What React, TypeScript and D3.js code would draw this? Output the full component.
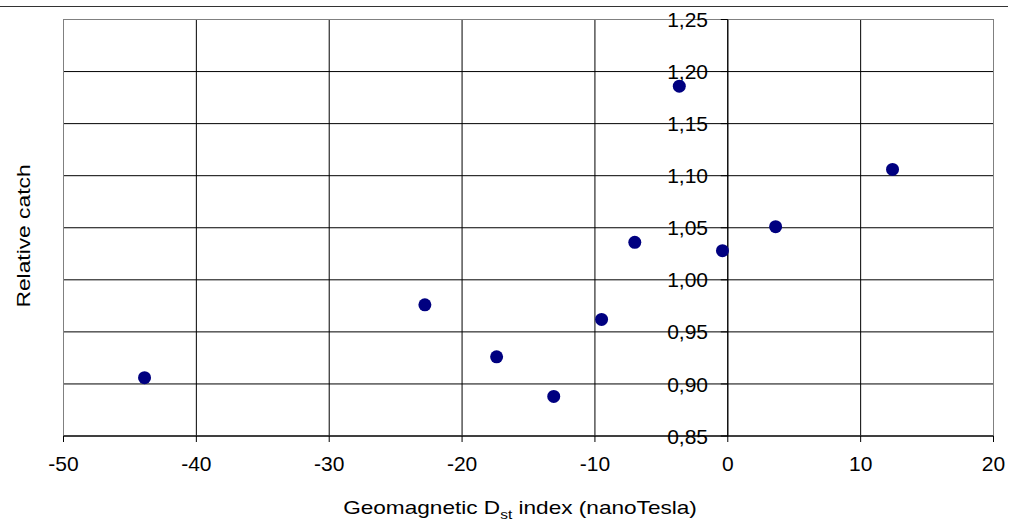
import React from 'react';
import * as d3 from 'd3';

// Dst index (nT) and relative catch
const dstValues = [-43.9, -22.8, -17.4, -13.1, -9.5, -7.0, -3.65, -0.4, 3.6, 12.4];
const catchValues = [0.906, 0.976, 0.926, 0.888, 0.962, 1.036, 1.186, 1.028, 1.051, 1.106];

const xTicks = [-50, -40, -30, -20, -10, 0, 10, 20];
const yTicks = [0.85, 0.9, 0.95, 1.0, 1.05, 1.1, 1.15, 1.2, 1.25];

const W = 1013;
const H = 532;
const left = 63.5, right = 993.5, top = 19.5, bottom = 436;
const font = '"Liberation Sans", Arial, sans-serif';

export default function App() {
  const x = d3.scaleLinear().domain([-50, 20]).range([left, right]);
  const y = d3.scaleLinear().domain([0.85, 1.25]).range([bottom, top]);
  const fmtY = (v: number) => d3.format('.2f')(v).replace('.', ',');
  const x0 = x(0);

  return (
    <svg width={W} height={H} style={{ position: 'absolute', left: 0, top: 0 }} fontFamily={font}>
      <rect width={W} height={H} fill="#fff" />
      <line x1={0} x2={1008} y1={6.5} y2={6.5} stroke="#333" />

      {/* gridlines */}
      {yTicks.map(t => (
        <line key={'gy' + t} x1={left} x2={right} y1={y(t)} y2={y(t)} stroke="#000" />
      ))}
      {xTicks.map(t => (
        <line key={'gx' + t} x1={x(t)} x2={x(t)} y1={top} y2={bottom} stroke="#000" />
      ))}
      <rect x={left} y={top} width={right - left} height={bottom - top} fill="none" stroke="#808080" />

      {/* x axis */}
      <line x1={left} x2={right} y1={bottom} y2={bottom} stroke="#000" />
      {xTicks.map(t => (
        <g key={'tx' + t} transform={`translate(${x(t)},0)`}>
          <line y1={bottom} y2={bottom + 6} stroke="#000" />
          <text y={471} textAnchor="middle" fontSize={21} fill="#000">{t}</text>
        </g>
      ))}

      {/* y axis at x = 0 */}
      <line x1={x0} x2={x0} y1={top} y2={bottom} stroke="#000" />
      {yTicks.map(t => (
        <g key={'ty' + t} transform={`translate(0,${y(t)})`}>
          <line x1={x0 - 7} x2={x0} stroke="#000" />
          <text x={708} dy="0.36em" textAnchor="end" fontSize={21} fill="#000">{fmtY(t)}</text>
        </g>
      ))}

      {dstValues.map((d, i) => (
        <circle key={i} cx={x(d)} cy={y(catchValues[i])} r={6.5} fill="#000080" />
      ))}

      <g transform="translate(520,514) scale(1.19,1)">
        <text textAnchor="middle" fontSize={19} fill="#000">
          Geomagnetic D<tspan fontSize={13} dy={5}>st</tspan><tspan dy={-5}> index (nanoTesla)</tspan>
        </text>
      </g>
      <g transform="translate(30,236) rotate(-90) scale(1.2,1)">
        <text textAnchor="middle" fontSize={19} fill="#000">Relative catch</text>
      </g>
    </svg>
  );
}
